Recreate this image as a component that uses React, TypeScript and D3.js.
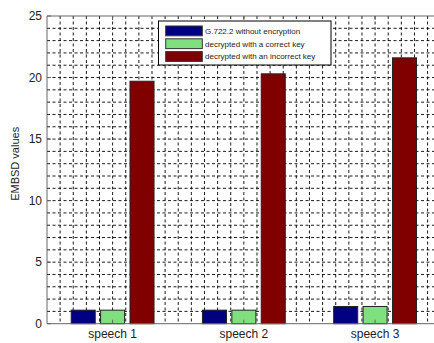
import React from "react";
import * as d3 from "d3";

// Speech samples along the x axis
const categories = ["speech 1", "speech 2", "speech 3"];

// EMBSD values per series
const seriesNames = [
  "G.722.2 without encryption",
  "decrypted with a correct key",
  "decrypted with an incorrect key",
];
const plainValues = [1.1, 1.1, 1.4];
const correctKeyValues = [1.1, 1.1, 1.4];
const wrongKeyValues = [19.7, 20.3, 21.6];

const yTicks = [0, 5, 10, 15, 20, 25];

const seriesColors = ["#000080", "#80e080", "#800000"];

const W = 434;
const H = 343;
const plot = { left: 47, right: 440.7, top: 16, bottom: 323.7 };

export default function App() {
  const series = [plainValues, correctKeyValues, wrongKeyValues];

  const x = d3.scaleLinear().domain([0.5, 3.5]).range([plot.left, plot.right]);
  const y = d3.scaleLinear().domain([0, 25]).range([plot.bottom, plot.top]);

  const barWidth = 0.183;
  const barStep = 0.224;

  const vGrid = d3.range(6, 35).map((i) => i / 10);
  const hGrid = d3.range(1, 25);

  const axisColor = "#666";
  const textColor = "#222";
  const font = "'Liberation Sans', Arial, sans-serif";

  return (
    <svg
      width={W}
      height={H}
      style={{ position: "absolute", left: 0, top: 0, background: "#fff" }}
    >
      <defs>
        <clipPath id="plotClip">
          <rect x={plot.left} y={plot.top} width={plot.right - plot.left} height={plot.bottom - plot.top} />
        </clipPath>
      </defs>
      <rect x={0} y={0} width={W} height={H} fill="#fff" />

      {/* dashed grid */}
      <g clipPath="url(#plotClip)" stroke="#000" strokeWidth={0.9} strokeDasharray="3,2.5">
        {vGrid.map((v) => (
          <line key={"v" + v} x1={x(v)} x2={x(v)} y1={plot.top} y2={plot.bottom} />
        ))}
        {hGrid.map((v) => (
          <line key={"h" + v} x1={plot.left} x2={plot.right} y1={y(v)} y2={y(v)} />
        ))}
      </g>

      {/* bars */}
      <g>
        {categories.map((c, ci) =>
          series.map((vals, si) => {
            const cx = ci + 1 + (si - 1) * barStep;
            const x0 = x(cx - barWidth / 2);
            const x1 = x(cx + barWidth / 2);
            return (
              <rect
                key={c + si}
                x={x0}
                y={y(vals[ci])}
                width={x1 - x0}
                height={y(0) - y(vals[ci])}
                fill={seriesColors[si]}
                stroke="#222"
                strokeWidth={1}
              />
            );
          })
        )}
      </g>

      {/* axes frame */}
      <g stroke={axisColor} strokeWidth={1} fill="none">
        <line x1={plot.left} x2={plot.right} y1={plot.top} y2={plot.top} />
        <line x1={plot.left} x2={plot.right} y1={plot.bottom} y2={plot.bottom} />
        <line x1={plot.left} x2={plot.left} y1={plot.top} y2={plot.bottom} />
        {categories.map((c, i) => (
          <g key={"t" + c}>
            <line x1={x(i + 1)} x2={x(i + 1)} y1={plot.top} y2={plot.top + 4} />
            <line x1={x(i + 1)} x2={x(i + 1)} y1={plot.bottom} y2={plot.bottom - 4} />
          </g>
        ))}
        {yTicks.map((t) => (
          <line key={"yt" + t} x1={plot.left} x2={plot.left + 4} y1={y(t)} y2={y(t)} />
        ))}
      </g>

      {/* y tick labels */}
      <g fontFamily={font} fontSize={12} fill={textColor} textAnchor="end">
        {yTicks.map((t) => (
          <text key={"yl" + t} x={plot.left - 5} y={y(t)} dy="0.36em">
            {t}
          </text>
        ))}
      </g>

      {/* x tick labels */}
      <g fontFamily={font} fontSize={12} fill={textColor} textAnchor="middle">
        {categories.map((c, i) => (
          <text key={"xl" + c} x={x(i + 1)} y={338}>
            {c}
          </text>
        ))}
      </g>

      {/* y axis label */}
      <text
        transform={`translate(18.5,${(plot.top + plot.bottom) / 2 - 6}) rotate(-90)`}
        fontFamily={font}
        fontSize={11}
        fill={textColor}
        textAnchor="middle"
      >
        EMBSD values
      </text>

      {/* legend */}
      <g>
        <rect x={158.5} y={21} width={172.5} height={44} fill="#fff" stroke="#000" strokeWidth={1} />
        {seriesNames.map((name, i) => (
          <g key={name} transform={`translate(0,${26 + i * 12.8})`}>
            <rect x={165.7} y={0} width={36.6} height={9.8} fill={seriesColors[i]} stroke="#333" strokeWidth={1} />
            <text x={205} y={5} dy="0.35em" fontFamily={font} fontSize={8} fill={textColor}>
              {name}
            </text>
          </g>
        ))}
      </g>
    </svg>
  );
}
